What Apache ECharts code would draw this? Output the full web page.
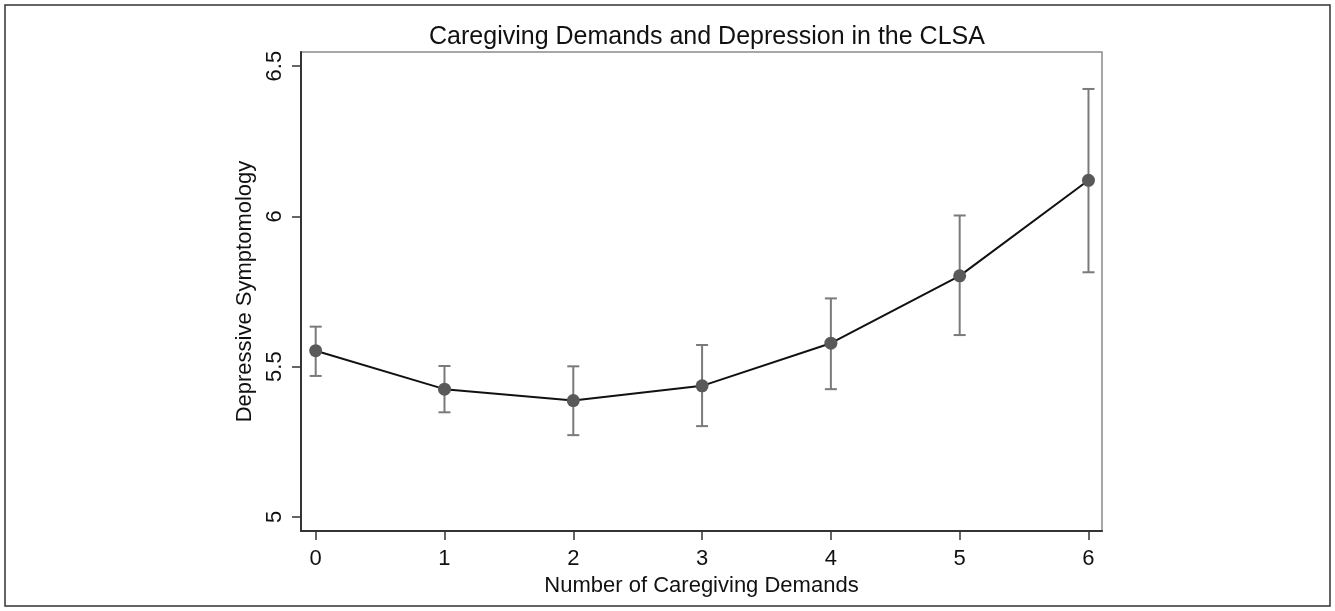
<!DOCTYPE html>
<html>
<head>
<meta charset="utf-8">
<script src="https://cdn.jsdelivr.net/npm/echarts@6/dist/echarts.min.js"></script>
<style>
html,body{margin:0;padding:0;background:#fff;}
#chart{width:1335px;height:611px;}
</style>
</head>
<body>
<div id="chart"></div>
<script>
const demands = [0, 1, 2, 3, 4, 5, 6];
const meanScore = [5.553, 5.425, 5.387, 5.436, 5.578, 5.802, 6.120];
const lowerCI = [5.469, 5.348, 5.272, 5.302, 5.425, 5.605, 5.814];
const upperCI = [5.633, 5.502, 5.501, 5.572, 5.727, 6.003, 6.424];
const xTicks = [0, 1, 2, 3, 4, 5, 6];
const yTicks = [5, 5.5, 6, 6.5];

const fontFam = '"Liberation Sans", Arial, Helvetica, sans-serif';
const chart = echarts.init(document.getElementById('chart'), null, {renderer: 'canvas'});

const lineData = demands.map((d, i) => [d, meanScore[i]]);
const errData = demands.map((d, i) => [d, lowerCI[i], upperCI[i]]);

chart.setOption({
  backgroundColor: '#fff',
  animation: false,
  title: {
    text: 'Caregiving Demands and Depression in the CLSA',
    left: 702,
    textAlign: 'center',
    top: 20,
    textStyle: {fontFamily: fontFam, fontSize: 25, fontWeight: 'normal', color: '#111'}
  },
  graphic: [{
    type: 'rect',
    shape: {x: 5, y: 5, width: 1325, height: 601},
    style: {fill: 'none', stroke: '#333', lineWidth: 1.5},
    silent: true
  }],
  grid: {
    left: 301, right: 233, top: 52, bottom: 80,
    show: true, borderColor: '#8a8a8a', borderWidth: 1.5, backgroundColor: '#fff'
  },
  xAxis: {
    type: 'value',
    min: -0.114, max: 6.105,
    name: 'Number of Caregiving Demands',
    nameLocation: 'middle',
    nameGap: 42,
    nameTextStyle: {fontFamily: fontFam, fontSize: 22, color: '#111'},
    axisLine: {show: true, onZero: false, lineStyle: {color: '#333', width: 2}},
    axisTick: {show: true, length: 9, customValues: xTicks, lineStyle: {color: '#333', width: 1.5}},
    axisLabel: {customValues: xTicks, margin: 17, fontFamily: fontFam, fontSize: 22, color: '#111',
      formatter: v => String(v)},
    splitLine: {show: false}
  },
  yAxis: {
    type: 'value',
    min: 4.953, max: 6.547,
    name: 'Depressive Symptomology',
    nameLocation: 'middle',
    nameGap: 36,
    nameRotate: 90,
    nameTextStyle: {fontFamily: fontFam, fontSize: 22, color: '#111'},
    axisLine: {show: true, onZero: false, lineStyle: {color: '#333', width: 2}},
    axisTick: {show: true, length: 9, customValues: yTicks, lineStyle: {color: '#333', width: 1.5}},
    axisLabel: {customValues: yTicks, margin: 15, rotate: 90, fontFamily: fontFam, fontSize: 22, color: '#111',
      formatter: v => String(v)},
    splitLine: {show: false}
  },
  series: [
    {
      type: 'custom',
      z: 2,
      data: errData,
      renderItem: function (params, api) {
        const x = api.value(0);
        const lo = api.coord([x, api.value(1)]);
        const hi = api.coord([x, api.value(2)]);
        const hw = 6;
        const st = {stroke: '#7a7a7a', lineWidth: 2};
        return {
          type: 'group',
          children: [
            {type: 'line', shape: {x1: lo[0], y1: lo[1], x2: hi[0], y2: hi[1]}, style: st},
            {type: 'line', shape: {x1: lo[0] - hw, y1: lo[1], x2: lo[0] + hw, y2: lo[1]}, style: st},
            {type: 'line', shape: {x1: hi[0] - hw, y1: hi[1], x2: hi[0] + hw, y2: hi[1]}, style: st}
          ]
        };
      }
    },
    {
      type: 'line',
      z: 3,
      data: lineData,
      symbol: 'circle',
      symbolSize: 13,
      lineStyle: {color: '#111', width: 2},
      itemStyle: {color: '#595959', borderWidth: 0}
    }
  ]
});
</script>
</body>
</html>
